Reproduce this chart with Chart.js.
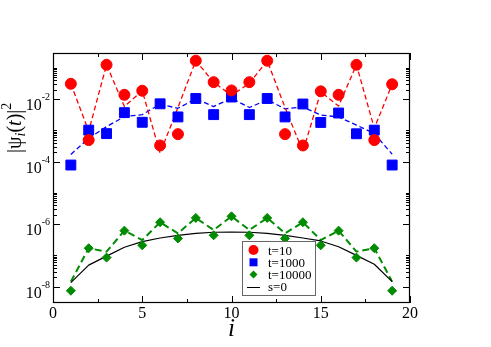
<!DOCTYPE html>
<html>
<head>
<meta charset="utf-8">
<script src="https://cdn.jsdelivr.net/npm/chart.js@4.4.1/dist/chart.umd.min.js"></script>
<style>
  html, body { margin: 0; padding: 0; background: #fff; }
  #wrap { width: 491px; height: 347px; }
</style>
</head>
<body>
<div id="wrap"><canvas id="c" width="491" height="347"></canvas></div>
<script>
// site index i
const sites = [1, 2, 3, 4, 5, 6, 7, 8, 9, 10, 11, 12, 13, 14, 15, 16, 17, 18, 19];

// t=10 : symbols and dashed curve
const t10Pts = [3.1e-2, 4.9e-4, 1.26e-1, 1.38e-2, 1.86e-2, 3.3e-4, 7.6e-4, 1.7e-1, 3.5e-2, 1.9e-2,
                3.5e-2, 1.7e-1, 7.6e-4, 3.3e-4, 1.78e-2, 1.38e-2, 1.26e-1, 4.9e-4, 3.0e-2];
const t10Line = [3.1e-2, 9.5e-4, 1.26e-1, 5.8e-3, 1.86e-2, 1.86e-4, 5.4e-3, 1.7e-1, 3.5e-2, 1.32e-2,
                 3.2e-2, 1.7e-1, 5.4e-3, 2.1e-4, 1.7e-2, 6.0e-3, 1.26e-1, 1.17e-3, 3.0e-2];

// t=1000
const t1000Pts = [7.8e-5, 1.02e-3, 7.9e-4, 3.7e-3, 1.82e-3, 7.1e-3, 2.7e-3, 1.05e-2, 3.2e-3, 1.17e-2,
                  3.2e-3, 1.05e-2, 2.7e-3, 7.0e-3, 1.8e-3, 3.6e-3, 7.8e-4, 1.02e-3, 7.8e-5];
const t1000Line = [1.7e-4, 5.6e-4, 1.32e-3, 2.75e-3, 3.2e-3, 6.9e-3, 5.1e-3, 1.02e-2, 5.8e-3, 1.07e-2,
                   5.4e-3, 9.5e-3, 4.9e-3, 5.6e-3, 3.1e-3, 2.7e-3, 1.48e-3, 7.9e-4, 1.74e-4];

// t=10000
const t10000Pts = [7.4e-9, 1.7e-7, 8.5e-8, 6.2e-7, 2.1e-7, 1.15e-6, 3.5e-7, 1.58e-6, 4.4e-7, 1.78e-6,
                   4.4e-7, 1.58e-6, 3.5e-7, 1.15e-6, 2.1e-7, 6.2e-7, 8.5e-8, 1.7e-7, 7.4e-9];
const t10000Line = [1.45e-8, 1.7e-7, 1.32e-7, 6.2e-7, 3.1e-7, 1.15e-6, 5.1e-7, 1.58e-6, 6.5e-7, 1.78e-6,
                    6.5e-7, 1.58e-6, 5.1e-7, 1.15e-6, 3.1e-7, 6.2e-7, 1.32e-7, 1.7e-7, 1.45e-8];

// s=0
const s0Line = [1.35e-8, 4.9e-8, 9.5e-8, 1.82e-7, 2.75e-7, 3.6e-7, 4.4e-7, 5.1e-7, 5.5e-7, 5.6e-7,
                5.5e-7, 5.1e-7, 4.4e-7, 3.6e-7, 2.9e-7, 1.9e-7, 1.0e-7, 5.2e-8, 1.45e-8];

// axes
const xMin = 0, xMax = 20;
const yMin = 3e-9, yMax = 0.3;
const xMajor = [0, 5, 10, 15, 20];
const xMinor = [2.5, 7.5, 12.5, 17.5];
const xLabels = ["0", "5", "10", "15", "20"];
const yMajor = [1e-8, 1e-6, 1e-4, 1e-2];
const yExpLabels = ["-8", "-6", "-4", "-2"];
const yMinorMult = [2, 3, 4, 5, 6, 7, 8, 9, 10];

const RED = "#ff0000", BLUE = "#0000ff", GREEN = "#008b00";
const SERIF = '"Liberation Serif", "Times New Roman", serif';

const pts = arr => sites.map((s, i) => ({ x: s, y: arr[i] }));

// frame, inward ticks, labels and legend (xmgrace look)
const framePlugin = {
  id: "frame",
  afterDatasetsDraw(chart) {
    const { ctx, chartArea: a, scales } = chart;
    const x = scales.x, y = scales.y;
    ctx.save();

    ctx.strokeStyle = "#000";
    ctx.lineWidth = 1;
    ctx.beginPath();
    const tick = (px, len, horiz) => {
      if (horiz) {
        ctx.moveTo(px, a.bottom); ctx.lineTo(px, a.bottom - len);
        ctx.moveTo(px, a.top); ctx.lineTo(px, a.top + len);
      } else {
        ctx.moveTo(a.left, px); ctx.lineTo(a.left + len, px);
        ctx.moveTo(a.right, px); ctx.lineTo(a.right - len, px);
      }
    };
    xMajor.forEach(v => tick(Math.round(x.getPixelForValue(v)) + 0.5, 7, true));
    xMinor.forEach(v => tick(Math.round(x.getPixelForValue(v)) + 0.5, 4, true));
    yMajor.forEach(v => {
      tick(Math.round(y.getPixelForValue(v)) + 0.5, 7, false);
      yMinorMult.forEach(k => {
        const val = v * k;
        if (val < yMax) tick(Math.round(y.getPixelForValue(val)) + 0.5, 4, false);
      });
    });
    ctx.stroke();
    ctx.lineWidth = 1.2;
    ctx.strokeRect(a.left + 0.5, a.top + 0.5, a.right - a.left - 1, a.bottom - a.top - 1);

    // x tick labels
    ctx.fillStyle = "#000";
    ctx.font = "16px " + SERIF;
    ctx.textAlign = "center";
    ctx.textBaseline = "alphabetic";
    xMajor.forEach((v, i) => ctx.fillText(xLabels[i], x.getPixelForValue(v), a.bottom + 15));

    // y tick labels 10^n
    yMajor.forEach((v, i) => {
      const py = y.getPixelForValue(v);
      ctx.font = "10px " + SERIF;
      const w2 = ctx.measureText(yExpLabels[i]).width;
      ctx.textAlign = "left";
      ctx.fillText(yExpLabels[i], a.left - 3 - w2, py + 1);
      ctx.font = "16px " + SERIF;
      ctx.textAlign = "right";
      ctx.fillText("10", a.left - 3 - w2, py + 11);
    });

    // x title
    ctx.font = "italic 25px " + SERIF;
    ctx.textAlign = "center";
    ctx.fillText("i", (a.left + a.right) / 2, 336);

    // y title |psi_i(t)|^2, rotated
    ctx.save();
    ctx.translate(21, 153);
    ctx.rotate(-Math.PI / 2);
    ctx.textAlign = "left";
    let cx = 0;
    const put = (txt, font, dy) => {
      ctx.font = font;
      ctx.fillText(txt, cx, dy);
      cx += ctx.measureText(txt).width;
    };
    put("|\u03C8", "20px " + SERIF, 0);
    put("i", "italic 14px " + SERIF, 4);
    put("(", "20px " + SERIF, 0);
    put("t", "italic 20px " + SERIF, 0);
    put(")|", "20px " + SERIF, 0);
    put("2", "14px " + SERIF, -10);
    ctx.restore();

    // legend
    const lx = 242.5, ly = 241.5, lw = 73, lh = 54;
    ctx.fillStyle = "#fff";
    ctx.fillRect(lx, ly, lw, lh);
    ctx.strokeStyle = "#666";
    ctx.lineWidth = 1;
    ctx.strokeRect(lx, ly, lw, lh);
    const items = chart.data.datasets.filter(d => d.label);
    items.forEach((d, i) => {
      const cy = 250 + i * 12.3;
      const sx = 253.5;
      ctx.fillStyle = d.pointBackgroundColor || d.borderColor;
      if (d.showLine === false) {
        ctx.beginPath();
        if (d.pointStyle === "circle") {
          ctx.arc(sx, cy, 5, 0, Math.PI * 2);
        } else if (d.pointStyle === "rect") {
          ctx.rect(sx - 4, cy - 4, 8, 8);
        } else {
          ctx.moveTo(sx, cy - 4); ctx.lineTo(sx + 4, cy);
          ctx.lineTo(sx, cy + 4); ctx.lineTo(sx - 4, cy);
          ctx.closePath();
        }
        ctx.fill();
      } else {
        ctx.strokeStyle = d.borderColor;
        ctx.lineWidth = 1;
        ctx.beginPath();
        ctx.moveTo(247, Math.round(cy) + 0.5);
        ctx.lineTo(260, Math.round(cy) + 0.5);
        ctx.stroke();
      }
      ctx.fillStyle = "#000";
      ctx.font = "13px " + SERIF;
      ctx.textAlign = "left";
      ctx.fillText(d.label, 268, cy + 4.5);
    });

    ctx.restore();
  }
};

const lineSet = (data, color, width, dash) => ({
  label: "",
  data: pts(data),
  borderColor: color,
  borderWidth: width,
  borderDash: dash,
  pointRadius: 0,
  fill: false,
  tension: 0,
  order: 2,
});

const symSet = (label, data, color, style, r) => ({
  label,
  data: pts(data),
  showLine: false,
  pointStyle: style,
  pointRadius: r,
  pointBackgroundColor: color,
  pointBorderColor: color,
  pointBorderWidth: 1,
  borderColor: color,
  order: 1,
});

new Chart(document.getElementById("c"), {
  type: "line",
  data: {
    datasets: [
      symSet("t=10", t10Pts, RED, "circle", 5.5),
      symSet("t=1000", t1000Pts, BLUE, "rect", 7),
      symSet("t=10000", t10000Pts, GREEN, "rectRot", 4.5),
      { ...lineSet(s0Line, "#000", 1.2, []), label: "s=0" },
      lineSet(t10Line, RED, 1.3, [5, 3]),
      lineSet(t1000Line, BLUE, 1.3, [5, 3]),
      lineSet(t10000Line, GREEN, 2, [7, 4]),
    ],
  },
  options: {
    responsive: false,
    animation: false,
    devicePixelRatio: 1,
    layout: { padding: { left: 53, right: 81, top: 53, bottom: 44 } },
    plugins: { legend: { display: false }, tooltip: { enabled: false } },
    elements: { line: { borderJoinStyle: "round" } },
    scales: {
      x: { type: "linear", min: xMin, max: xMax, display: false },
      y: { type: "logarithmic", min: yMin, max: yMax, display: false },
    },
  },
  plugins: [framePlugin],
});
</script>
</body>
</html>
